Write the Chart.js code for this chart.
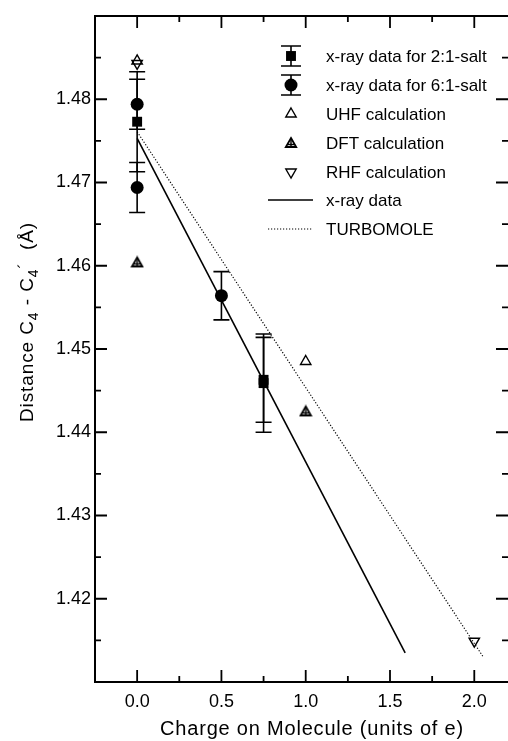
<!DOCTYPE html>
<html>
  <head>
    <meta charset="utf-8">
    <style>
      body { margin: 0; background: #fff; }
    </style>
  </head>
  <body>
    <canvas id="bondChart" width="508" height="741"></canvas>

    <script src="https://cdn.jsdelivr.net/npm/chart.js@4.4.0/dist/chart.umd.min.js"></script>
    <script>
      // values
      var salt21X = [0, 0.75, 0.75];
      var salt21Y = [1.4773, 1.4459, 1.4463];
      var salt21Err = [0.006, 0.0059, 0.0051];

      var salt61X = [0, 0, 0.5];
      var salt61Y = [1.4794, 1.4694, 1.4564];
      var salt61Err = [0.003, 0.003, 0.0029];

      var uhfX = [0, 1.0];
      var uhfY = [1.4846, 1.4485];
      var dftX = [0, 1.0];
      var dftY = [1.4604, 1.4425];
      var rhfX = [0, 2.0];
      var rhfY = [1.4843, 1.4149];

      var xrayFitX = [0, 1.59];
      var xrayFitY = [1.4753, 1.4135];
      var turboX = [0, 2.05];
      var turboY = [1.4761, 1.4131];

      var legendLabels = ['x-ray data for 2:1-salt', 'x-ray data for 6:1-salt', 'UHF calculation',
                          'DFT calculation', 'RHF calculation', 'x-ray data', 'TURBOMOLE'];

      var FONT = "'Liberation Sans', Arial, Helvetica, sans-serif";

      function pts(xs, ys) {
        return xs.map(function (x, i) { return {x: x, y: ys[i]}; });
      }

      // triangle with a cross inside, used for DFT
      var dftImg = document.createElement('canvas');
      dftImg.width = 14;
      dftImg.height = 14;
      (function () {
        var g = dftImg.getContext('2d');
        var cx = 7, cy = 8, r = 6;
        var s = Math.sin(2 * Math.PI / 3) * r;
        g.strokeStyle = '#000';
        g.lineWidth = 1.8;
        g.beginPath();
        g.moveTo(cx, cy - r);
        g.lineTo(cx + s, cy + r / 2);
        g.lineTo(cx - s, cy + r / 2);
        g.closePath();
        g.stroke();
        g.lineWidth = 1.4;
        g.beginPath();
        g.moveTo(cx, cy - r);
        g.lineTo(cx, cy + r / 2);
        g.moveTo(cx - s * 0.6, cy + 0.5);
        g.lineTo(cx + s * 0.6, cy + 0.5);
        g.stroke();
      })();

      var errorBars = {
        id: 'errorBars',
        afterDatasetsDraw: function (chart) {
          var ctx = chart.ctx;
          var xs = chart.scales.x, ys = chart.scales.y;
          ctx.save();
          ctx.strokeStyle = '#000';
          ctx.lineWidth = 1.6;
          chart.data.datasets.forEach(function (ds) {
            if (!ds.errors) return;
            ds.data.forEach(function (p, i) {
              var px = xs.getPixelForValue(p.x);
              var top = ys.getPixelForValue(p.y + ds.errors[i]);
              var bot = ys.getPixelForValue(p.y - ds.errors[i]);
              ctx.beginPath();
              ctx.moveTo(px, top); ctx.lineTo(px, bot);
              ctx.moveTo(px - 8, top); ctx.lineTo(px + 8, top);
              ctx.moveTo(px - 8, bot); ctx.lineTo(px + 8, bot);
              ctx.stroke();
            });
          });
          ctx.restore();
        }
      };

      var frame = {
        id: 'frame',
        afterDraw: function (chart) {
          var ctx = chart.ctx, a = chart.chartArea;
          var xs = chart.scales.x, ys = chart.scales.y;
          ctx.save();
          ctx.strokeStyle = '#000';
          ctx.lineWidth = 2;
          ctx.beginPath();
          ctx.moveTo(a.right, a.top); ctx.lineTo(a.left, a.top);
          ctx.lineTo(a.left, a.bottom); ctx.lineTo(a.right, a.bottom);
          ctx.stroke();

          ctx.lineWidth = 1.8;
          ctx.beginPath();
          ys.ticks.forEach(function (t) {
            if (t.value <= ys.min + 1e-6 || t.value >= ys.max - 1e-6) return;
            var py = ys.getPixelForValue(t.value);
            var len = t.label ? 12 : 6;
            ctx.moveTo(a.left, py); ctx.lineTo(a.left + len, py);
            ctx.moveTo(a.right, py); ctx.lineTo(a.right - len, py);
          });
          xs.ticks.forEach(function (t) {
            if (t.value <= xs.min + 1e-6 || t.value >= xs.max - 1e-6) return;
            var px = xs.getPixelForValue(t.value);
            var len = t.label ? 12 : 6;
            ctx.moveTo(px, a.bottom); ctx.lineTo(px, a.bottom - len);
            ctx.moveTo(px, a.top); ctx.lineTo(px, a.top + len);
          });
          ctx.stroke();

          // axis titles
          ctx.fillStyle = '#000';
          ctx.font = '20px ' + FONT;
          ctx.letterSpacing = '0.8px';
          ctx.textAlign = 'center';
          ctx.textBaseline = 'alphabetic';
          ctx.fillText('Charge on Molecule (units of e)', 312, 735);

          var parts = [['Distance C', 0], ['4', 1], [' - C', 0], ['4', 1], ['\u00b4', 2], ['  (\u00c5)', 0]];
          var fonts = ['19px ' + FONT, '14px ' + FONT, '16px ' + FONT];
          var shift = [0, 5, -3];
          var total = 0;
          ctx.letterSpacing = '0.9px';
          parts.forEach(function (p) { ctx.font = fonts[p[1]]; total += ctx.measureText(p[0]).width; });
          ctx.translate(33, 322);
          ctx.rotate(-Math.PI / 2);
          ctx.textAlign = 'left';
          var cx = -total / 2;
          parts.forEach(function (p) {
            ctx.font = fonts[p[1]];
            ctx.fillText(p[0], cx, shift[p[1]]);
            cx += ctx.measureText(p[0]).width;
          });
          ctx.restore();

          // legend inside the plot
          var rows = [56, 85, 114, 143, 172, 200, 229];
          var sx = 291, tx = 326;
          ctx.save();
          ctx.font = '17px ' + FONT;
          ctx.textBaseline = 'middle';
          ctx.fillStyle = '#000';
          ctx.strokeStyle = '#000';
          chart.data.datasets.forEach(function (ds, i) {
            var y = rows[i];
            ctx.save();
            if (ds.showLine) {
              ctx.lineWidth = ds.borderWidth;
              ctx.setLineDash(ds.borderDash || []);
              ctx.beginPath();
              ctx.moveTo(268, y); ctx.lineTo(313, y);
              ctx.stroke();
            } else {
              if (ds.errors) {
                ctx.lineWidth = 1.6;
                ctx.beginPath();
                ctx.moveTo(sx, y - 10); ctx.lineTo(sx, y + 10);
                ctx.moveTo(sx - 10, y - 10); ctx.lineTo(sx + 10, y - 10);
                ctx.moveTo(sx - 10, y + 10); ctx.lineTo(sx + 10, y + 10);
                ctx.stroke();
              }
              ctx.fillStyle = ds.backgroundColor;
              ctx.strokeStyle = ds.borderColor;
              ctx.lineWidth = ds.borderWidth;
              Chart.helpers.drawPoint(ctx, {
                pointStyle: ds.pointStyle,
                rotation: ds.rotation || 0,
                radius: ds.pointRadius,
                borderWidth: ds.borderWidth
              }, sx, y);
            }
            ctx.restore();
            ctx.fillText(ds.label, tx, y + 1);
          });
          ctx.restore();
        }
      };

      var ctx = document.getElementById('bondChart').getContext('2d');
      var bondChart = new Chart(ctx, {
        type: 'scatter',
        data: {
          datasets: [{
            label: legendLabels[0],
            data: pts(salt21X, salt21Y),
            errors: salt21Err,
            pointStyle: 'rect',
            pointRadius: 7,
            backgroundColor: '#000',
            borderColor: '#000',
            borderWidth: 0
          }, {
            label: legendLabels[1],
            data: pts(salt61X, salt61Y),
            errors: salt61Err,
            pointStyle: 'circle',
            pointRadius: 6.5,
            backgroundColor: '#000',
            borderColor: '#000',
            borderWidth: 0
          }, {
            label: legendLabels[2],
            data: pts(uhfX, uhfY),
            pointStyle: 'triangle',
            pointRadius: 6,
            backgroundColor: 'rgba(255,255,255,0)',
            borderColor: '#000',
            borderWidth: 1.4
          }, {
            label: legendLabels[3],
            data: pts(dftX, dftY),
            pointStyle: dftImg,
            pointRadius: 6,
            backgroundColor: 'rgba(255,255,255,0)',
            borderColor: '#000',
            borderWidth: 1.4
          }, {
            label: legendLabels[4],
            data: pts(rhfX, rhfY),
            pointStyle: 'triangle',
            rotation: 180,
            pointRadius: 6,
            backgroundColor: 'rgba(255,255,255,0)',
            borderColor: '#000',
            borderWidth: 1.4
          }, {
            label: legendLabels[5],
            data: pts(xrayFitX, xrayFitY),
            showLine: true,
            pointRadius: 0,
            borderColor: '#000',
            borderWidth: 1.6
          }, {
            label: legendLabels[6],
            data: pts(turboX, turboY),
            showLine: true,
            pointRadius: 0,
            borderColor: '#000',
            borderWidth: 1.2,
            borderDash: [1.2, 1.8]
          }]
        },
        options: {
          responsive: false,
          animation: false,
          devicePixelRatio: 1,
          layout: { autoPadding: false, padding: { top: 16, left: 0, right: 0, bottom: 0 } },
          plugins: {
            legend: { display: false },
            tooltip: { enabled: false }
          },
          scales: {
            x: {
              type: 'linear',
              min: -0.25,
              max: 2.2,
              grid: { display: false, drawTicks: false },
              border: { display: false },
              afterFit: function (s) {
                s.height = 59;
                s.paddingLeft = 0;
                s.paddingRight = 0;
              },
              ticks: {
                stepSize: 0.25,
                includeBounds: false,
                autoSkip: false,
                maxRotation: 0,
                padding: 9,
                color: '#000',
                font: { family: FONT, size: 18 },
                callback: function (v) {
                  var k = Math.round(v * 2);
                  return (Math.abs(v * 2 - k) < 1e-6 && v > -0.1 && v < 2.1) ? v.toFixed(1) : '';
                }
              }
            },
            y: {
              min: 1.41,
              max: 1.49,
              grid: { display: false, drawTicks: false },
              border: { display: false },
              afterFit: function (s) {
                s.width = 95;
                s.paddingTop = 0;
                s.paddingBottom = 0;
              },
              ticks: {
                stepSize: 0.005,
                autoSkip: false,
                padding: 4,
                color: '#000',
                font: { family: FONT, size: 18 },
                callback: function (v) {
                  var k = Math.round(v * 100);
                  return (Math.abs(v * 100 - k) < 1e-6 && v > 1.415 && v < 1.485) ? v.toFixed(2) : '';
                }
              }
            }
          }
        },
        plugins: [errorBars, frame]
      });
    </script>
  </body>
</html>
